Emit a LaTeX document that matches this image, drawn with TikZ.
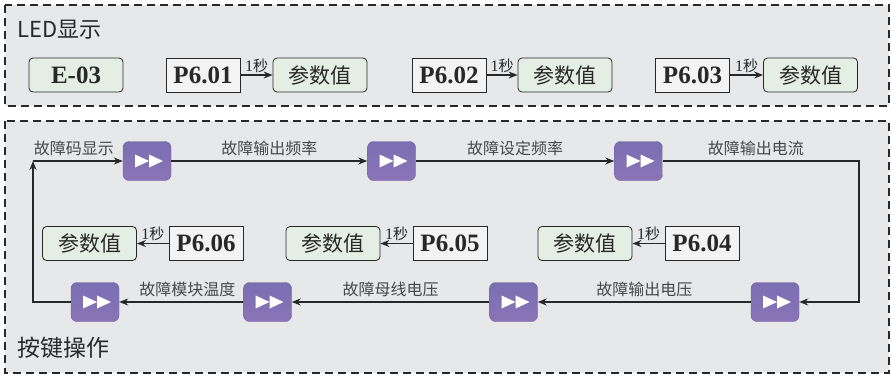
\documentclass[tikz,border=0pt]{standalone}
\usepackage{fontspec}
\setmainfont{Liberation Serif}
\newfontfamily\cjk{Noto Sans CJK SC}
\usetikzlibrary{positioning, arrows.meta, calc}

\definecolor{panelgray}{RGB}{231,232,234}
\definecolor{valgreen}{RGB}{228,238,228}
\definecolor{keytop}{RGB}{122,110,178}
\definecolor{keybot}{RGB}{139,116,183}
\definecolor{inkgray}{RGB}{40,40,40}

\begin{document}
\begin{tikzpicture}[x=1pt, y=-1pt,
  panel/.style={draw=inkgray, fill=panelgray, line width=1.4pt,
                dash pattern=on 8pt off 5pt},
  vbox/.style={draw=inkgray, fill=valgreen, rounded corners=4pt, line width=0.8pt,
               minimum width=94pt, minimum height=34pt, inner sep=0pt,
               font=\cjk\fontsize{21}{24}\selectfont, text=inkgray},
  ebox/.style={vbox, font=\bfseries\fontsize{25}{28}\selectfont},
  pbox/.style={draw=inkgray, fill=panelgray!50!white, line width=0.8pt,
               minimum width=74pt, minimum height=34pt, inner sep=0pt,
               font=\bfseries\fontsize{25}{28}\selectfont, text=inkgray},
  key/.style={top color=keytop, bottom color=keybot, draw=keybot!85!black,
              line width=0.4pt, rounded corners=6pt,
              minimum width=48pt, minimum height=39pt, inner sep=0pt,
              path picture={
                \coordinate (kc) at ($(path picture bounding box.center)+(2pt,0pt)$);
                \fill[white, sharp corners] ($(kc)+(-14pt,6.5pt)$) -- ($(kc)+(0pt,0pt)$) -- ($(kc)+(-14pt,-6.5pt)$) -- cycle;
                \fill[white, sharp corners] ($(kc)+(0pt,6.5pt)$) -- ($(kc)+(14pt,0pt)$) -- ($(kc)+(0pt,-6.5pt)$) -- cycle;
              }},
  flow/.style={line width=1.2pt, draw=inkgray, -{Stealth[length=9pt, width=7pt]}},
  stepl/.style={font=\cjk\fontsize{16}{18}\selectfont, text=inkgray!85, above=1pt},
  secl/.style={font=\fontsize{16}{18}\selectfont, text=inkgray, above=1pt, inner sep=1pt},
  title/.style={font=\cjk\fontsize{22}{26}\selectfont, text=inkgray, anchor=west, inner sep=0pt},
]
  \useasboundingbox (0,0) rectangle (892,375);

  % ═══ LED display panel ═══════════════════════════════════════
  \path[panel] (5,5) rectangle (889,106);
  \node[title] (led) at (17,30) {LED显示};

  \node[ebox] (e03) at (76,75) {E-03};
  \node[pbox] (p1) at (203,75)   {P6.01};
  \node[vbox] (v1) at (320,75)   {参数值};
  \node[pbox] (p2) at (449,75)   {P6.02};
  \node[vbox] (v2) at (565,75)   {参数值};
  \node[pbox] (p3) at (692.5,75) {P6.03};
  \node[vbox] (v3) at (810.5,75) {参数值};

  \foreach \i in {1,2,3} {
    \draw[flow] (p\i.east) -- node[secl] {1{\cjk\fontsize{15}{18}\selectfont 秒}} (v\i.west);
  }

  % ═══ Key operation panel ═════════════════════════════════════
  \path[panel] (5,121) rectangle (889,373);
  \node[title, font=\cjk\fontsize{23}{27}\selectfont] (keys) at (17,348) {按键操作};

  % keys: top row left to right, bottom row right to left
  \node[key] (k1) at (147,161)   {};
  \node[key] (k2) at (391.5,161) {};
  \node[key] (k3) at (638.5,161) {};
  \node[key] (k4) at (775,302)   {};
  \node[key] (k5) at (513.5,302) {};
  \node[key] (k6) at (267.5,302) {};
  \node[key] (k7) at (95,302)    {};

  \coordinate (l_turn) at (33,161);
  \coordinate (r_turn) at (859,161);

  % loop
  \draw[flow] (l_turn) -- node[stepl, xshift=-4pt] {故障码显示} (k1.west);
  \draw[flow] (k1.east) -- node[stepl] {故障输出频率} (k2.west);
  \draw[flow] (k2.east) -- node[stepl] {故障设定频率} (k3.west);
  \draw[flow] (k3.east) -- node[stepl, xshift=-5pt] {故障输出电流} (r_turn) |- (k4.east);
  \draw[flow] (k4.west) -- node[stepl] {故障输出电压} (k5.east);
  \draw[flow] (k5.west) -- node[stepl] {故障母线电压} (k6.east);
  \draw[flow] (k6.west) -- node[stepl, xshift=6pt] {故障模块温度} (k7.east);
  \draw[flow] (k7.west) -| (l_turn);

  % parameters shown after each key
  \node[vbox] (v4) at (585,243.5)  {参数值};
  \node[pbox] (p4) at (702,243.5)  {P6.04};
  \node[vbox] (v5) at (333,243.5)  {参数值};
  \node[pbox] (p5) at (450,243.5)  {P6.05};
  \node[vbox] (v6) at (89.5,243.5) {参数值};
  \node[pbox] (p6) at (206,243.5)  {P6.06};

  \foreach \i in {4,5,6} {
    \draw[flow] (p\i.west) -- node[secl] {1{\cjk\fontsize{15}{18}\selectfont 秒}} (v\i.east);
  }
\end{tikzpicture}
\end{document}
